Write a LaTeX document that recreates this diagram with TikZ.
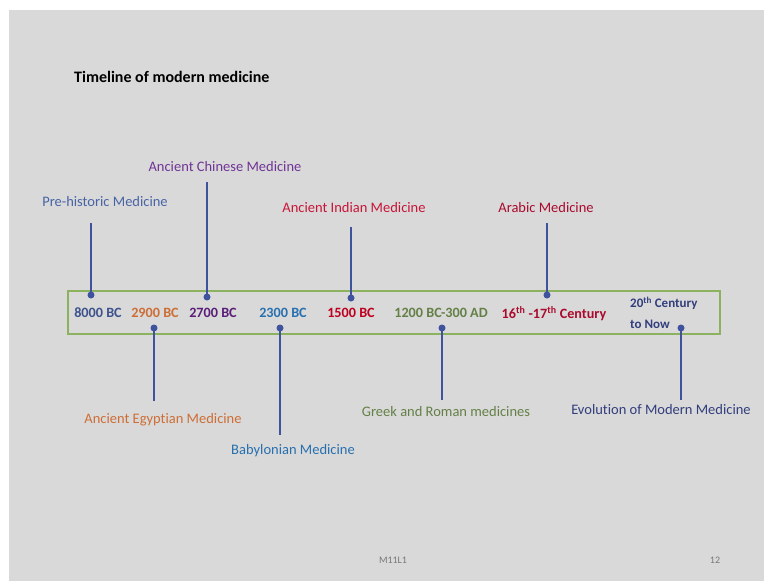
\documentclass[tikz,border=0pt]{standalone}
\usepackage{fontspec}
\setmainfont[Ligatures=NoCommon]{Carlito}
\begin{document}
\begin{tikzpicture}[x=1pt,y=-1pt,
  lbl/.style={inner sep=0pt, font=\fontsize{14.5}{16}\selectfont},
  yr/.style={inner sep=0pt, font=\fontsize{14.2}{16}\selectfont\bfseries},
  dot/.style={circle, fill=linkblue, inner sep=0pt, minimum size=7pt},
  link/.style={draw=linkblue, line width=1.3pt}]
\definecolor{slidebg}{RGB}{217,217,217}
\definecolor{boxgreen}{RGB}{140,178,95}
\definecolor{linkblue}{RGB}{62,82,158}
\definecolor{cPre}{RGB}{72,100,165}
\definecolor{cPreY}{RGB}{62,82,140}
\definecolor{cEgy}{RGB}{205,110,55}
\definecolor{cChi}{RGB}{112,52,150}
\definecolor{cChiY}{RGB}{90,30,120}
\definecolor{cBab}{RGB}{40,112,175}
\definecolor{cInd}{RGB}{200,20,55}
\definecolor{cIndY}{RGB}{190,0,30}
\definecolor{cGre}{RGB}{100,128,70}
\definecolor{cAra}{RGB}{170,10,45}
\definecolor{cEvo}{RGB}{50,62,125}
\definecolor{footgray}{RGB}{120,120,120}

\useasboundingbox (0,0) rectangle (764,581);
\fill[white] (0,0) rectangle (764,581);
\fill[slidebg] (9,10) rectangle (764,581);

% title
\node[inner sep=0pt, anchor=west, font=\fontsize{16}{18}\selectfont\bfseries] (title) at (74,77) {Timeline of modern medicine};

% timeline band
\draw[boxgreen, line width=1.2pt] (68,291) rectangle (720,334);

% dates inside the band
\node[yr, text=cPreY] (y1) at (98,313) {8000 BC};
\node[yr, text=cEgy] (y2) at (155,313) {2900 BC};
\node[yr, text=cChiY] (y3) at (213,313) {2700 BC};
\node[yr, text=cBab] (y4) at (283,313) {2300 BC};
\node[yr, text=cIndY] (y5) at (351,313) {1500 BC};
\node[yr, text=cGre] (y6) at (441,313) {1200 BC-300 AD};
\node[yr, text=cAra] (y7) at (554,314) {16\textsuperscript{th} -17\textsuperscript{th} Century};
\node[inner sep=0pt, anchor=west, align=left, text=cEvo, font=\fontsize{13}{21}\selectfont\bfseries] (y8) at (630,313) {20\textsuperscript{th} Century\\to Now};

% markers on the band
\node[dot] (d1) at (91,295) {};
\node[dot] (d2) at (154,328) {};
\node[dot] (d3) at (207,297) {};
\node[dot] (d4) at (280,328) {};
\node[dot] (d5) at (351,298) {};
\node[dot] (d6) at (442,328) {};
\node[dot] (d7) at (547,295) {};
\node[dot] (d8) at (681,328) {};

% era labels
\node[lbl, text=cPre] (l1) at (105,202) {Pre-historic Medicine};
\node[lbl, text=cEgy] (l2) at (163,420) {Ancient Egyptian Medicine};
\node[lbl, text=cChi] (l3) at (225,167) {Ancient Chinese Medicine};
\node[lbl, text=cBab] (l4) at (293,451) {Babylonian Medicine};
\node[lbl, text=cInd] (l5) at (354,208) {Ancient Indian Medicine};
\node[lbl, text=cGre] (l6) at (446,412) {Greek and Roman medicines};
\node[lbl, text=cAra] (l7) at (546,208) {Arabic Medicine};
\node[lbl, text=cEvo] (l8) at (661,410) {Evolution of Modern Medicine};

% connectors
\coordinate (e1) at (91,223);
\coordinate (e2) at (154,401);
\coordinate (e3) at (207,182);
\coordinate (e4) at (280,435);
\coordinate (e5) at (351,227);
\coordinate (e6) at (442,400);
\coordinate (e7) at (547,223);
\coordinate (e8) at (681,400);
\foreach \i in {1,...,8} \draw[link] (d\i.center) -- (e\i);

% footer
\node[inner sep=0pt, text=footgray, font=\fontsize{10}{12}\selectfont] (foot) at (393,560) {M11L1};
\node[inner sep=0pt, text=footgray, font=\fontsize{10}{12}\selectfont] (page) at (715,560) {12};
\end{tikzpicture}
\end{document}
